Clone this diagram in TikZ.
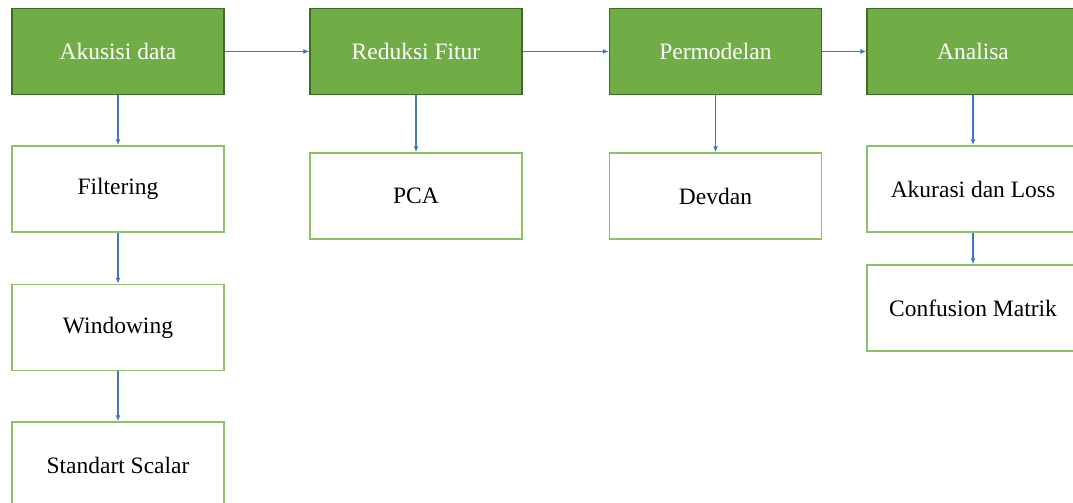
\documentclass[tikz,border=0pt]{standalone}
\usepackage{fontspec}
\setmainfont{Liberation Serif}
\usetikzlibrary{arrows.meta}
\definecolor{gfill}{HTML}{70AD47}
\definecolor{gdark}{HTML}{3E6B27}
\definecolor{glight}{HTML}{8CC168}
\definecolor{ablue}{HTML}{4472C4}
\begin{document}
\begin{tikzpicture}[x=1pt,y=-1pt,
  mainbox/.style={draw=gdark,fill=gfill,line width=1.3pt,minimum width=212pt,minimum height=86pt,inner sep=0pt,text=white,font=\fontsize{23.5}{25}\selectfont},
  subbox/.style={draw=glight,fill=white,line width=1.5pt,minimum width=212pt,minimum height=86pt,inner sep=0pt,text=black,font=\fontsize{23.5}{25}\selectfont},
  conn/.style={draw=ablue,line width=1.4pt,-{Latex[length=6pt,width=5pt]}}]
\useasboundingbox (0,0) rectangle (1073,503);
\node[mainbox] (akd) at (118,51.5) {Akusisi data};
\node[mainbox] (red) at (416,51.5) {Reduksi Fitur};
\node[mainbox] (per) at (715.5,51.5) {Permodelan};
\node[mainbox] (ana) at (973,51.5) {Analisa};
\node[subbox] (fil) at (118,189) {Filtering};
\node[subbox] (win) at (118,327.5) {Windowing};
\node[subbox] (std) at (118,465) {Standart Scalar};
\node[subbox] (pca) at (416,196) {PCA};
\node[subbox] (dev) at (715.5,196) {Devdan};
\node[subbox] (akl) at (973,189) {Akurasi dan Loss};
\node[subbox] (cfm) at (973,308) {Confusion Matrik};
\draw[conn] (akd) -- (red);
\draw[conn] (red) -- (per);
\draw[conn] (per) -- (ana);
\draw[conn] (akd) -- (fil);
\draw[conn] (fil) -- (win);
\draw[conn] (win) -- (std);
\draw[conn] (red) -- (pca);
\draw[conn] (per) -- (dev);
\draw[conn] (ana) -- (akl);
\draw[conn] (akl) -- (cfm);
\end{tikzpicture}
\end{document}
